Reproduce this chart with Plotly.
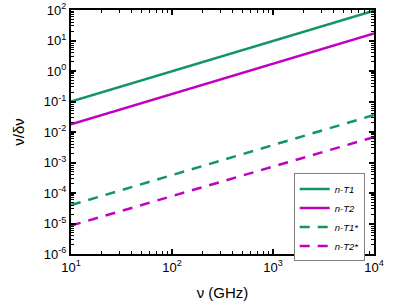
import plotly.graph_objects as go

freq_ghz = [10, 10000]
n_t1 = [0.1, 95]
n_t2 = [0.018, 17]
n_t1_star = [4.0e-5, 0.036]
n_t2_star = [8.5e-6, 0.0068]

series_names = ["<i>n-T1</i>", "<i>n-T2</i>", "<i>n-T1*</i>", "<i>n-T2*</i>"]
green = "#12965f"
magenta = "#c000c0"

fig = go.Figure()
fig.add_trace(go.Scatter(x=freq_ghz, y=n_t1, mode="lines", name=series_names[0],
                         line=dict(color=green, width=2.5)))
fig.add_trace(go.Scatter(x=freq_ghz, y=n_t2, mode="lines", name=series_names[1],
                         line=dict(color=magenta, width=2.5)))
fig.add_trace(go.Scatter(x=freq_ghz, y=n_t1_star, mode="lines", name=series_names[2],
                         line=dict(color=green, width=2.5, dash="10px,8px")))
fig.add_trace(go.Scatter(x=freq_ghz, y=n_t2_star, mode="lines", name=series_names[3],
                         line=dict(color=magenta, width=2.5, dash="10px,8px")))

x_exps = [1, 2, 3, 4]
y_exps = [-6, -5, -4, -3, -2, -1, 0, 1, 2]
xt = [10 ** e for e in x_exps]
xtt = [f"10<sup>{e}</sup>" for e in x_exps]
yt = [10.0 ** e for e in y_exps]
ytt = [f"10<sup>{e}</sup>" for e in y_exps]

font_family = "Liberation Sans, Arial"

def axis_common():
    return dict(showgrid=False, zeroline=False, showline=True, linecolor="black", linewidth=2,
                mirror="allticks", ticks="inside", ticklen=5, tickwidth=1.5, tickcolor="black",
                automargin=False, ticklabeloverflow="allow",
                minor=dict(ticks="inside", ticklen=3, tickwidth=1, tickcolor="black",
                           showgrid=False, dtick="D1"),
                tickfont=dict(family=font_family, size=13, color="black"))

fig.update_xaxes(type="log", range=[1, 4], tickmode="array", tickvals=xt, ticktext=xtt,
                 title=dict(text="ν (GHz)", font=dict(family=font_family, size=15, color="black"), standoff=14),
                 **axis_common())
fig.update_yaxes(type="log", range=[-6, 2], tickmode="array", tickvals=yt, ticktext=ytt,
                 title=dict(text="ν/δν", font=dict(family=font_family, size=15, color="black"), standoff=16),
                 **axis_common())

fig.update_layout(
    width=407, height=305,
    margin=dict(l=71, r=33, t=10, b=51),
    paper_bgcolor="white", plot_bgcolor="white",
    showlegend=True,
    legend=dict(x=0.735, y=0.33, xanchor="left", yanchor="top",
                bordercolor="#808080", borderwidth=1, bgcolor="white",
                font=dict(family=font_family, size=9.5, color="black"),
                tracegroupgap=0, itemwidth=30),
)

fig.write_html("out.html", config={"displayModeBar": False},
               post_script="document.body.style.margin='0';")
